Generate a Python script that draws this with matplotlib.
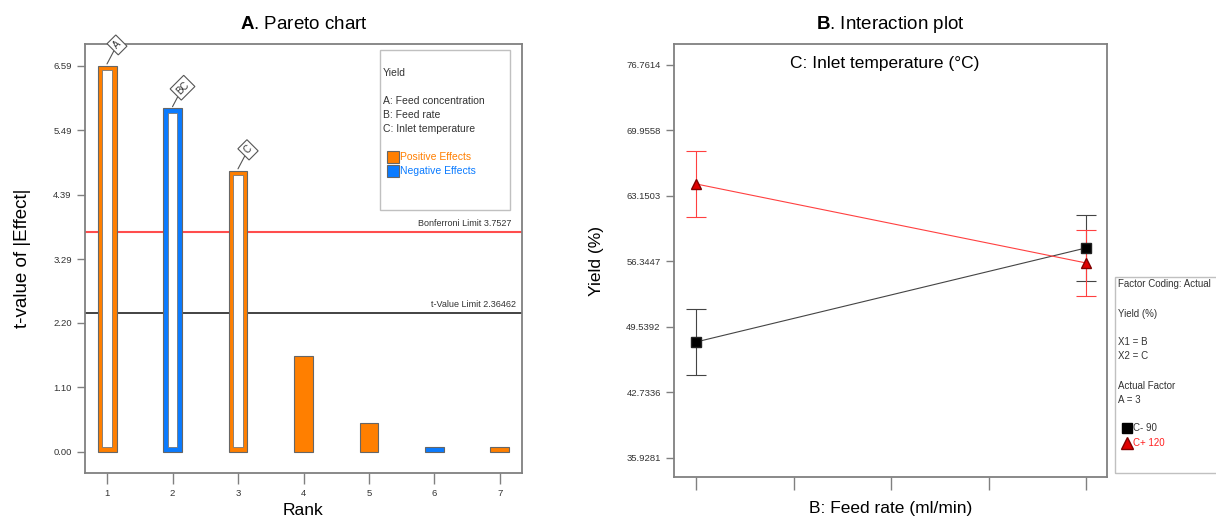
import matplotlib
matplotlib.use("Agg")
import matplotlib.pyplot as plt
from matplotlib.patches import Rectangle
from matplotlib.lines import Line2D

plt.rcParams['font.family'] = ['Liberation Sans', 'DejaVu Sans']
plt.rcParams['mathtext.fontset'] = 'custom'
plt.rcParams['mathtext.rm'] = 'Liberation Sans'
plt.rcParams['mathtext.bf'] = 'Liberation Sans:bold'

# ---- Pareto chart data ----
ranks = [1, 2, 3, 4, 5, 6, 7]
t_values = [6.59, 5.86, 4.80, 1.64, 0.49, 0.085, 0.085]
effect_sign = ['+', '-', '+', '+', '+', '-', '+']
term_labels = ['A', 'BC', 'C', None, None, None, None]
bonferroni = 3.7527
t_limit = 2.36462
pareto_ticks = [0.00, 1.10, 2.20, 3.29, 4.39, 5.49, 6.59]

# ---- Interaction plot data ----
feed_pos = [0, 4]
feed_ticks = [0, 1, 2, 3, 4]
yield_c_minus = [47.98, 57.75]   # C- 90
yield_c_plus = [64.40, 56.19]    # C+ 120
yield_err = 3.43
yield_ticks = [35.9281, 42.7336, 49.5392, 56.3447, 63.1503, 69.9558, 76.7614]

ORANGE = '#FF7F00'
BLUE = '#0A7BFF'
GRAY = '#808080'
TXT = '#333333'


def style_axes(ax):
    for s in ax.spines.values():
        s.set_color(GRAY)
        s.set_linewidth(1.3)
    ax.tick_params(axis='both', colors=GRAY, labelcolor=TXT, labelsize=6.8,
                   length=6, width=1)


fig = plt.figure(figsize=(12.16, 5.18), dpi=100)

# ------------------ A. Pareto chart ------------------
ax1 = fig.add_axes([85 / 1216, 1 - 473 / 518, 437 / 1216, 429 / 518])
style_axes(ax1)
for r, v, sgn, lab in zip(ranks, t_values, effect_sign, term_labels):
    col = ORANGE if sgn == '+' else BLUE
    ax1.bar(r, v, width=0.29, color=col, edgecolor='#666666', linewidth=0.8, zorder=2)
    if v > t_limit:
        ax1.bar(r, v - 0.155, width=0.15, bottom=0.085, color='white',
                edgecolor='#777777', linewidth=0.6, zorder=3)
    if lab:
        ax1.annotate(lab, xy=(r, v + 0.03), xytext=(10, 19),
                     textcoords='offset pixels', rotation=45, ha='center',
                     va='center', fontsize=7, color=TXT,
                     bbox=dict(boxstyle='square,pad=0.3', fc='white', ec='#555555', lw=0.8),
                     arrowprops=dict(arrowstyle='-', color='#555555', lw=0.8,
                                     shrinkA=0, shrinkB=0))

ax1.axhline(bonferroni, color='#FF4D4D', lw=1.5, zorder=1)
ax1.axhline(t_limit, color='#222222', lw=1.2, zorder=1)
ax1.text(7.18, bonferroni + 0.07, 'Bonferroni Limit %s' % bonferroni, ha='right',
         va='bottom', fontsize=6.5, color=TXT)
ax1.text(7.24, t_limit + 0.07, 't-Value Limit %s' % t_limit, ha='right',
         va='bottom', fontsize=6.5, color=TXT)

ax1.set_xlim(0.664, 7.336)
ax1.set_ylim(-0.36, 6.96)
ax1.set_xticks(ranks)
ax1.set_yticks(pareto_ticks)
ax1.set_yticklabels(['%.2f' % t for t in pareto_ticks])
ax1.tick_params(axis='x', length=8)
ax1.set_xlabel('Rank', fontsize=12.5, va='center')
ax1.xaxis.set_label_coords(0.5, -0.088)
ax1.set_ylabel('t-value of |Effect|', fontsize=13.5, va='center')
ax1.yaxis.set_label_coords(-0.142, 0.5)
ax1.set_title(r'$\mathbf{A}$. Pareto chart', fontsize=13.5, pad=11)

# legend box
ax1.add_patch(Rectangle((0.675, 0.613), 0.298, 0.373, transform=ax1.transAxes,
                        fill=False, ec='#C0C0C0', lw=1, zorder=4))
leg_lines = [('Yield', 0.932), ('A: Feed concentration', 0.866),
             ('B: Feed rate', 0.834), ('C: Inlet temperature', 0.801)]
for t, y in leg_lines:
    ax1.text(0.682, y, t, transform=ax1.transAxes, fontsize=7.5, color=TXT, va='center')
for t, y, c in [('Positive Effects', 0.736, ORANGE), ('Negative Effects', 0.703, BLUE)]:
    ax1.add_patch(Rectangle((0.691, y - 0.014), 0.027, 0.028, transform=ax1.transAxes,
                            fc=c, ec='#666666', lw=0.8, zorder=5))
    ax1.text(0.72, y, t, transform=ax1.transAxes, fontsize=7.5, color=c, va='center')

# ------------------ B. Interaction plot ------------------
ax2 = fig.add_axes([674 / 1216, 1 - 477 / 518, 433 / 1216, 433 / 518])
style_axes(ax2)
ax2.errorbar(feed_pos, yield_c_minus, yerr=yield_err, color='#444444', lw=0.8,
             elinewidth=0.8, capsize=7, capthick=0.8, marker='s', markersize=6.5,
             markerfacecolor='black', markeredgecolor='#222222', zorder=3)
ax2.errorbar(feed_pos, yield_c_plus, yerr=yield_err, color='#FF4040', lw=0.8,
             elinewidth=0.8, capsize=7, capthick=0.8, marker='^', markersize=7,
             markerfacecolor='#E00000', markeredgecolor='#800000', zorder=3)
ax2.set_xlim(-0.226, 4.215)
ax2.set_ylim(33.95, 78.94)
ax2.set_xticks(feed_ticks)
ax2.set_xticklabels([])
ax2.tick_params(axis='x', length=9)
ax2.set_yticks(yield_ticks)
ax2.set_yticklabels(['%.4f' % t for t in yield_ticks])
ax2.set_xlabel('B: Feed rate (ml/min)', fontsize=12.5, va='center')
ax2.xaxis.set_label_coords(0.5, -0.072)
ax2.set_ylabel('Yield (%)', fontsize=12.5, va='center')
ax2.yaxis.set_label_coords(-0.18, 0.5)
ax2.set_title(r'$\mathbf{B}$. Interaction plot', fontsize=13.5, pad=11)
ax2.text(0.487, 0.956, 'C: Inlet temperature (°C)', transform=ax2.transAxes,
         ha='center', va='center', fontsize=12.5)

# right legend box (runs off the figure edge)
fig.patches.append(Rectangle((1115 / 1216, 1 - 473 / 518), 0.2, 196 / 518,
                             transform=fig.transFigure, fill=False, ec='#C0C0C0', lw=1))
fx = 1118 / 1216
for t, ypx in [('Factor Coding: Actual', 284), ('Yield (%)', 314), ('X1 = B', 342),
               ('X2 = C', 356), ('Actual Factor', 386), ('A = 3', 400)]:
    fig.text(fx, 1 - ypx / 518, t, fontsize=7, color=TXT, va='center')
fig.add_artist(Line2D([1127 / 1216], [1 - 428 / 518], marker='s', markersize=7.5,
                      color='black', transform=fig.transFigure))
fig.text(1133 / 1216, 1 - 428 / 518, 'C- 90', fontsize=7, color=TXT, va='center')
fig.add_artist(Line2D([1127 / 1216], [1 - 443 / 518], marker='^', markersize=8.5,
                      color='#E00000', markeredgecolor='#800000', transform=fig.transFigure))
fig.text(1133 / 1216, 1 - 443 / 518, 'C+ 120', fontsize=7, color='#FF2020', va='center')

fig.savefig('out.png', dpi=100)
